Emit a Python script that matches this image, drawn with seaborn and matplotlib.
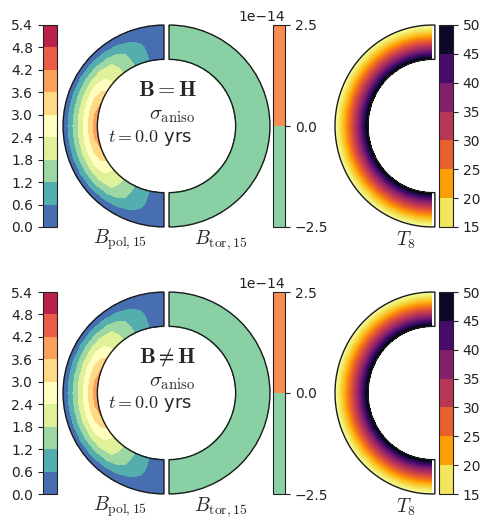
import numpy as np
import matplotlib
matplotlib.use("Agg")
import matplotlib.pyplot as plt
import matplotlib.colors as mcolors
from matplotlib.patches import Wedge, Polygon
from matplotlib.cm import ScalarMappable
import seaborn as sns

# ---------------------------------------------------------------- data
# northern-hemisphere colatitudes (deg); the field is mirrored about the equator
colatitude_deg = [0, 10, 20, 30, 40, 50, 60, 70, 80, 90]
# radial grid (units of the outer crust radius)
crust_radius = [0.66, 0.70, 0.75, 0.80, 0.85, 0.90, 0.95, 1.00]

# poloidal field strength [1e15 G], one row per colatitude, one column per radius
bpol_00 = [0.00, 0.00, 0.00, 0.00, 0.00, 0.00, 0.00, 0.00]
bpol_10 = [0.48, 0.47, 0.45, 0.43, 0.38, 0.28, 0.15, 0.00]
bpol_20 = [0.92, 0.90, 0.88, 0.84, 0.74, 0.52, 0.27, 0.00]
bpol_30 = [1.38, 1.36, 1.33, 1.27, 1.10, 0.76, 0.39, 0.00]
bpol_40 = [1.95, 1.93, 1.88, 1.78, 1.40, 0.96, 0.49, 0.00]
bpol_50 = [2.42, 2.38, 2.31, 2.12, 1.63, 1.11, 0.57, 0.01]
bpol_60 = [3.06, 2.98, 2.76, 2.32, 1.77, 1.20, 0.61, 0.02]
bpol_70 = [3.62, 3.42, 2.93, 2.39, 1.81, 1.21, 0.62, 0.02]
bpol_80 = [3.93, 3.56, 2.99, 2.41, 1.82, 1.22, 0.62, 0.02]
bpol_90 = [4.08, 3.62, 3.02, 2.42, 1.82, 1.22, 0.62, 0.02]

# toroidal field: numerical noise only [1e15 G]
btor_profile = [-1e-16, -1e-16, -1e-16, -1e-16, -1e-16, -1e-16, -1e-16, -1e-16]
# crust temperature profile [1e8 K]
temp_profile = [50.0, 44.0, 37.0, 31.5, 26.5, 21.0, 17.5, 15.0]

bpol_levels = [0.0, 0.6, 1.2, 1.8, 2.4, 3.0, 3.6, 4.2, 4.8, 5.4]
btor_levels = [-2.5e-14, 0.0, 2.5e-14]
temp_ticks = [15, 20, 25, 30, 35, 40, 45, 50]

row_titles = [r"$\mathbf{B} = \mathbf{H}$", r"$\mathbf{B} \neq \mathbf{H}$"]
conductivity_label = r"$\sigma_{\rm aniso}$"
time_label = r"$t = 0.0$ yrs"
bpol_label = r"$B_{\rm pol,15}$"
btor_label = r"$B_{\rm tor,15}$"
temp_label = r"$T_8$"

# ---------------------------------------------------------------- style
sns.set_style("white")
plt.rcParams["font.family"] = ["DejaVu Sans"]
plt.rcParams["mathtext.fontset"] = "cm"
plt.rcParams["axes.unicode_minus"] = True

W, H = 483, 518
fig = plt.figure(figsize=(W / 100, H / 100), dpi=100)


def px_axes(left, top, width, height):
    return fig.add_axes([left / W, 1 - (top + height) / H, width / W, height / H])


def fx(x):
    return x / W


def fy(y):
    return 1 - y / H


# full meridional grid: north pole -> equator -> south pole
north = np.array([bpol_00, bpol_10, bpol_20, bpol_30, bpol_40,
                  bpol_50, bpol_60, bpol_70, bpol_80, bpol_90])
bpol_field = np.vstack([north, north[-2::-1]])
theta_deg = np.concatenate([colatitude_deg, 180 - np.asarray(colatitude_deg)[-2::-1]])
theta = np.deg2rad(theta_deg.astype(float))
radius = np.asarray(crust_radius, dtype=float)
RR, TH = np.meshgrid(radius, theta)
r_in = radius[0]

btor_field = np.tile(btor_profile, (len(theta), 1))
temp_field = np.tile(temp_profile, (len(theta), 1))

spectral = plt.get_cmap("Spectral_r")
inferno = plt.get_cmap("inferno_r")
n_t = len(temp_ticks) - 1
temp_bar_cmap = mcolors.ListedColormap([inferno((i + 0.5) / n_t) for i in range(n_t)])
temp_bar_norm = mcolors.BoundaryNorm(temp_ticks, n_t)


def style_cbar(cb, side):
    cax = cb.ax
    cax.yaxis.set_ticks_position(side)
    cax.yaxis.set_label_position(side)
    cax.tick_params(labelsize=10, length=3.5, width=0.8, colors="#222222",
                    labelcolor="#222222")
    cb.outline.set_linewidth(0.8)
    cb.outline.set_edgecolor("#222222")


gap = 0.025
for row, title in enumerate(row_titles):
    dy = 267 * row

    # poloidal / toroidal disk
    ax = px_axes(59.5, 19 + dy, 214, 214)
    ax.set_xlim(-1.06, 1.06)
    ax.set_ylim(-1.06, 1.06)
    ax.set_axis_off()
    cs_pol = ax.contourf(-RR * np.sin(TH) - gap, RR * np.cos(TH), bpol_field,
                         levels=bpol_levels, cmap=spectral)
    cs_tor = ax.contourf(RR * np.sin(TH) + gap, RR * np.cos(TH), btor_field,
                         levels=btor_levels, cmap=spectral)
    ax.add_patch(Wedge((-gap, 0), 1.0, 90, 270, width=1 - r_in, fill=False,
                       ec="#1a1a1a", lw=1.0))
    ax.add_patch(Wedge((gap, 0), 1.0, -90, 90, width=1 - r_in, fill=False,
                       ec="#1a1a1a", lw=1.0))

    cax = px_axes(43, 25 + dy, 14, 202)
    cb = fig.colorbar(cs_pol, cax=cax, ticks=bpol_levels)
    style_cbar(cb, "left")

    cax = px_axes(273, 25 + dy, 12, 202)
    cb = fig.colorbar(cs_tor, cax=cax, ticks=btor_levels)
    style_cbar(cb, "right")
    cax.yaxis.get_offset_text().set_fontsize(10)
    cax.yaxis.get_offset_text().set_color("#222222")

    # temperature half shell
    axt = px_axes(329.2, 19 + dy, 108.6, 214)
    axt.set_xlim(-1.06, 0.06)
    axt.set_ylim(-1.06, 1.06)
    axt.set_axis_off()
    axt.contourf(-RR * np.sin(TH), RR * np.cos(TH), temp_field,
                 levels=np.linspace(temp_ticks[0], temp_ticks[-1], 141),
                 cmap=inferno)
    d = 0.03
    arc = np.linspace(np.pi / 2, 3 * np.pi / 2, 200)
    outline = ([(np.cos(a), np.sin(a)) for a in arc]
               + [(d, -1.0), (d, -r_in)]
               + [(r_in * np.cos(a), r_in * np.sin(a)) for a in arc[::-1]]
               + [(d, r_in), (d, 1.0)])
    axt.add_patch(Polygon(outline, closed=True, fill=False, ec="#1a1a1a", lw=1.0))

    cax = px_axes(439, 25 + dy, 14, 202)
    cb = fig.colorbar(ScalarMappable(norm=temp_bar_norm, cmap=temp_bar_cmap),
                      cax=cax, ticks=temp_ticks)
    style_cbar(cb, "right")

    # annotations
    fig.text(fx(167.5), fy(90 + dy), title, fontsize=16, ha="center", va="center")
    fig.text(fx(172), fy(115 + dy), conductivity_label, fontsize=15,
             ha="center", va="center")
    fig.text(fx(150.5), fy(137.5 + dy), time_label, fontsize=13,
             ha="center", va="center")
    fig.text(fx(120), fy(240 + dy), bpol_label, fontsize=14, ha="center", va="center")
    fig.text(fx(221), fy(240 + dy), btor_label, fontsize=14, ha="center", va="center")
    fig.text(fx(406), fy(240 + dy), temp_label, fontsize=14, ha="center", va="center")

fig.savefig("out.png", dpi=100)
